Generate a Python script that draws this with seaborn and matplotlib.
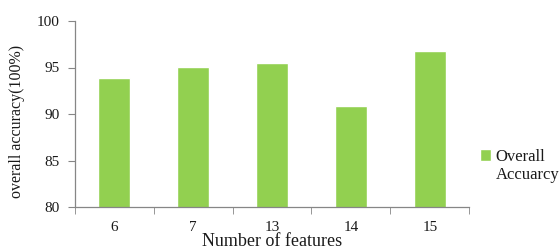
import matplotlib
matplotlib.use("Agg")
import matplotlib.pyplot as plt
import seaborn as sns
import pandas as pd
from matplotlib.ticker import FixedLocator
from matplotlib.patches import Patch

features = ["6", "7", "13", "14", "15"]
accuracy = [93.9, 95.1, 95.5, 90.9, 96.8]

df = pd.DataFrame({"features": features, "accuracy": accuracy})

sns.set_style("white")
plt.rcParams["font.family"] = ["Liberation Serif", "DejaVu Serif"]
plt.rcParams["text.color"] = "#1a1a1a"
plt.rcParams["xtick.color"] = "#1a1a1a"
plt.rcParams["ytick.color"] = "#1a1a1a"
plt.rcParams["axes.labelcolor"] = "#1a1a1a"

fig = plt.figure(figsize=(5.6, 2.5), dpi=100)
ax = fig.add_axes([0.1334, 0.172, 0.7046, 0.744])

sns.barplot(x="features", y="accuracy", data=df, color="#92D050",
            width=0.4, ax=ax, saturation=1)

ax.set_ylim(80, 100)
ax.set_yticks([80, 85, 90, 95, 100])
ax.set_xlim(-0.5, 4.5)

for s in ["top", "right"]:
    ax.spines[s].set_visible(False)
for s in ["left", "bottom"]:
    ax.spines[s].set_color("#868686")
    ax.spines[s].set_linewidth(0.9)

ax.tick_params(axis="y", which="major", direction="out", length=5, color="#868686",
               labelsize=11, pad=6, left=True)
ax.tick_params(axis="x", which="major", length=0, labelsize=11, pad=10)
ax.xaxis.set_minor_locator(FixedLocator([-0.5, 0.5, 1.5, 2.5, 3.5, 4.5]))
ax.tick_params(axis="x", which="minor", direction="out", length=5, color="#868686", bottom=True)

ax.set_xlabel("Number of features", fontsize=13, labelpad=-1)
ax.set_ylabel("overall accuracy(100%)", fontsize=11.5)
ax.yaxis.set_label_coords(-0.126, 0.46)

handles = [Patch(facecolor="#92D050"), Patch(visible=False)]
ax.legend(handles, ["Overall", "Accuarcy"], loc="center left",
          bbox_to_anchor=(1.01, 0.22), frameon=False, fontsize=12,
          handlelength=0.65, handleheight=0.65, handletextpad=0.3,
          labelspacing=0.15, borderaxespad=0)

fig.savefig("out.png", dpi=100)
